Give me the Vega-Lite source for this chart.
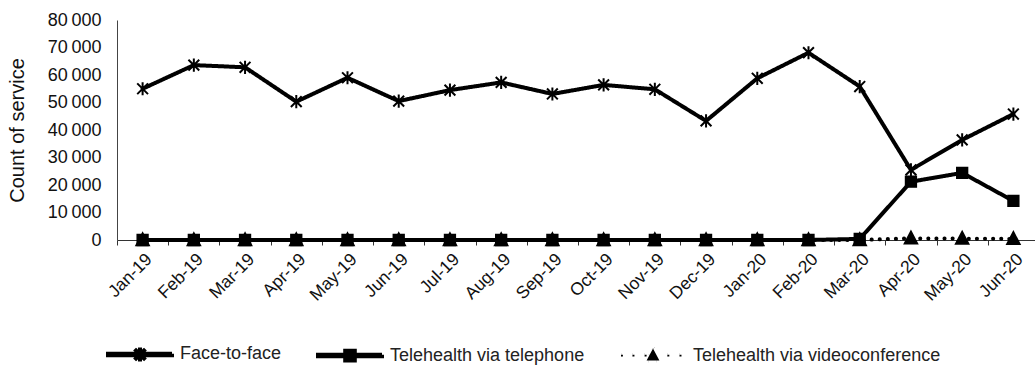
{
  "$schema": "https://vega.github.io/schema/vega-lite/v6.json",
  "width": 922,
  "height": 220,
  "autosize": {"type": "none"},
  "padding": {"left": 117, "top": 20, "right": 0, "bottom": 125},
  "background": "white",
  "config": {
    "view": {"stroke": null},
    "font": "Liberation Sans",
    "axis": {"grid": false, "labelFont": "Liberation Sans", "titleFont": "Liberation Sans"}
  },
  "data": {
    "values": [
      {"month": "Jan-19", "series": "Face-to-face", "value": 55000},
      {"month": "Feb-19", "series": "Face-to-face", "value": 63600},
      {"month": "Mar-19", "series": "Face-to-face", "value": 62800},
      {"month": "Apr-19", "series": "Face-to-face", "value": 50300},
      {"month": "May-19", "series": "Face-to-face", "value": 59000},
      {"month": "Jun-19", "series": "Face-to-face", "value": 50500},
      {"month": "Jul-19", "series": "Face-to-face", "value": 54500},
      {"month": "Aug-19", "series": "Face-to-face", "value": 57300},
      {"month": "Sep-19", "series": "Face-to-face", "value": 53100},
      {"month": "Oct-19", "series": "Face-to-face", "value": 56400},
      {"month": "Nov-19", "series": "Face-to-face", "value": 54800},
      {"month": "Dec-19", "series": "Face-to-face", "value": 43300},
      {"month": "Jan-20", "series": "Face-to-face", "value": 58800},
      {"month": "Feb-20", "series": "Face-to-face", "value": 68100},
      {"month": "Mar-20", "series": "Face-to-face", "value": 55800},
      {"month": "Apr-20", "series": "Face-to-face", "value": 25500},
      {"month": "May-20", "series": "Face-to-face", "value": 36400},
      {"month": "Jun-20", "series": "Face-to-face", "value": 45800},
      {"month": "Jan-19", "series": "Telehealth via telephone", "value": 0},
      {"month": "Feb-19", "series": "Telehealth via telephone", "value": 0},
      {"month": "Mar-19", "series": "Telehealth via telephone", "value": 0},
      {"month": "Apr-19", "series": "Telehealth via telephone", "value": 0},
      {"month": "May-19", "series": "Telehealth via telephone", "value": 0},
      {"month": "Jun-19", "series": "Telehealth via telephone", "value": 0},
      {"month": "Jul-19", "series": "Telehealth via telephone", "value": 0},
      {"month": "Aug-19", "series": "Telehealth via telephone", "value": 0},
      {"month": "Sep-19", "series": "Telehealth via telephone", "value": 0},
      {"month": "Oct-19", "series": "Telehealth via telephone", "value": 0},
      {"month": "Nov-19", "series": "Telehealth via telephone", "value": 0},
      {"month": "Dec-19", "series": "Telehealth via telephone", "value": 0},
      {"month": "Jan-20", "series": "Telehealth via telephone", "value": 0},
      {"month": "Feb-20", "series": "Telehealth via telephone", "value": 0},
      {"month": "Mar-20", "series": "Telehealth via telephone", "value": 400},
      {"month": "Apr-20", "series": "Telehealth via telephone", "value": 21200},
      {"month": "May-20", "series": "Telehealth via telephone", "value": 24400},
      {"month": "Jun-20", "series": "Telehealth via telephone", "value": 14200},
      {"month": "Jan-19", "series": "Telehealth via videoconference", "value": 0},
      {"month": "Feb-19", "series": "Telehealth via videoconference", "value": 0},
      {"month": "Mar-19", "series": "Telehealth via videoconference", "value": 0},
      {"month": "Apr-19", "series": "Telehealth via videoconference", "value": 0},
      {"month": "May-19", "series": "Telehealth via videoconference", "value": 0},
      {"month": "Jun-19", "series": "Telehealth via videoconference", "value": 0},
      {"month": "Jul-19", "series": "Telehealth via videoconference", "value": 0},
      {"month": "Aug-19", "series": "Telehealth via videoconference", "value": 0},
      {"month": "Sep-19", "series": "Telehealth via videoconference", "value": 0},
      {"month": "Oct-19", "series": "Telehealth via videoconference", "value": 0},
      {"month": "Nov-19", "series": "Telehealth via videoconference", "value": 0},
      {"month": "Dec-19", "series": "Telehealth via videoconference", "value": 0},
      {"month": "Jan-20", "series": "Telehealth via videoconference", "value": 0},
      {"month": "Feb-20", "series": "Telehealth via videoconference", "value": 0},
      {"month": "Mar-20", "series": "Telehealth via videoconference", "value": 0},
      {"month": "Apr-20", "series": "Telehealth via videoconference", "value": 600},
      {"month": "May-20", "series": "Telehealth via videoconference", "value": 500},
      {"month": "Jun-20", "series": "Telehealth via videoconference", "value": 400}
    ]
  },
  "encoding": {
    "x": {
      "field": "month",
      "type": "ordinal",
      "sort": null,
      "bandPosition": 0.5,
      "scale": {"type": "band", "paddingInner": 0, "paddingOuter": 0},
      "axis": {
        "title": null,
        "labelAngle": -45,
        "labelFontSize": 17.5,
        "labelColor": "#111",
        "labelPadding": 5,
        "tickBand": "extent",
        "tickSize": 5,
        "tickColor": "#333",
        "domainColor": "#333"
      }
    },
    "y": {
      "field": "value",
      "type": "quantitative",
      "scale": {"domain": [0, 80000]},
      "axis": {
        "title": "Count of service",
        "titleFontSize": 20,
        "titleFontWeight": "normal",
        "titleColor": "#111",
        "titlePadding": 20,
        "values": [0, 10000, 20000, 30000, 40000, 50000, 60000, 70000, 80000],
        "labelOverlap": false,
        "ticks": false,
        "labelPadding": 16,
        "labelFontSize": 18,
        "labelColor": "#111",
        "labelExpr": "replace(format(datum.value, ','), ',', '\u2009')",
        "domainColor": "#444"
      }
    }
  },
  "layer": [
    {
      "mark": {"type": "line", "strokeCap": "round"},
      "encoding": {
        "color": {
          "field": "series",
          "type": "nominal",
          "scale": {
            "domain": ["Face-to-face", "Telehealth via telephone", "Telehealth via videoconference"],
            "range": ["black", "black", "black"]
          },
          "legend": {
            "orient": "none",
            "legendX": -11,
            "legendY": 300,
            "direction": "horizontal",
            "title": null,
            "labelFont": "Liberation Sans",
            "labelFontSize": 18,
            "labelColor": "#222",
            "labelOffset": 6,
            "labelLimit": 400,
            "columnPadding": 28,
            "symbolSize": 4096,
            "symbolStrokeWidth": 1.5,
            "encode": {
              "symbols": {
                "update": {
                  "shape": {"signal": "datum.value === 'Face-to-face' ? 'M-1,-0.023H1V0.023H-1ZM-0.17,-0.17L0.17,0.17M-0.17,0.17L0.17,-0.17M0,-0.22V0.22' : datum.value === 'Telehealth via telephone' ? 'M-1,-0.023H1V0.023H-1ZM-0.15,-0.15H0.15V0.15H-0.15Z' : 'M-1,-0.03h0.06v0.06h-0.06ZM-0.64,-0.03h0.06v0.06h-0.06ZM-0.26,-0.03h0.06v0.06h-0.06ZM0.45,-0.03h0.06v0.06h-0.06ZM0.83,-0.03h0.06v0.06h-0.06ZM0,-0.22L0.2,0.15H-0.2Z'"},
                  "fill": {"value": "black"},
                  "stroke": {"value": "black"},
                  "strokeWidth": {"value": 1.5},
                  "strokeDash": {"value": [1, 0]},
                  "opacity": {"value": 1}
                }
              }
            }
          }
        },
        "strokeDash": {
          "field": "series",
          "type": "nominal",
          "scale": {
            "domain": ["Face-to-face", "Telehealth via telephone", "Telehealth via videoconference"],
            "range": [[1, 0], [1, 0], [0.1, 8]]
          },
          "legend": null
        },
        "strokeWidth": {
          "field": "series",
          "type": "nominal",
          "scale": {
            "domain": ["Face-to-face", "Telehealth via telephone", "Telehealth via videoconference"],
            "range": [4, 4, 3]
          },
          "legend": null
        }
      }
    },
    {
      "transform": [{"filter": "datum.series === 'Face-to-face'"}],
      "mark": {"type": "point", "filled": false, "color": "black", "strokeWidth": 2, "size": 144, "opacity": 1, "shape": "M-0.9,-0.9L0.9,0.9M-0.9,0.9L0.9,-0.9M0,-1.1V1.1"}
    },
    {
      "transform": [{"filter": "datum.series === 'Telehealth via telephone'"}],
      "mark": {"type": "point", "filled": true, "color": "black", "stroke": "black", "strokeWidth": 1.5, "size": 144, "opacity": 1, "shape": "M-0.9,-0.9H0.9V0.9H-0.9Z"}
    },
    {
      "transform": [{"filter": "datum.series === 'Telehealth via videoconference'"}],
      "mark": {"type": "point", "filled": true, "color": "black", "stroke": "black", "strokeWidth": 1.5, "size": 144, "opacity": 1, "shape": "M0,-1.2L1.1,0.9H-1.1Z"}
    }
  ]
}
